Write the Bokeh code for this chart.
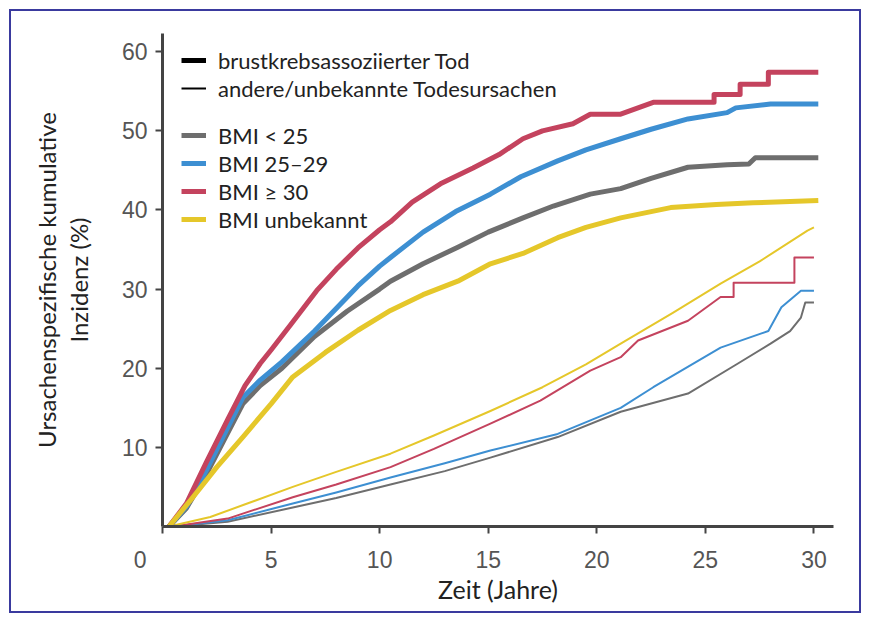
from bokeh.plotting import figure
from bokeh.models import Range1d, FixedTicker, Legend, LegendItem, LinearAxis
from bokeh.embed import file_html
from bokeh.resources import INLINE

# ---- data ----
x_ticks = [0, 5, 10, 15, 20, 25, 30]
y_ticks = [10, 20, 30, 40, 50, 60]

# breast-cancer-associated death (thick lines)
bc_gray_x = [0.3, 1.1, 2.0, 3.0, 3.7, 4.5, 5.5, 7.0, 8.5, 10.0, 10.5, 12.0, 13.6, 15.0, 16.6, 18.0, 19.7, 21.1, 22.5, 24.2, 26.0, 27.0, 27.3, 30.2]
bc_gray_y = [0, 2.3, 6.5, 11.8, 15.5, 17.8, 20.0, 24.0, 27.2, 30.0, 31.0, 33.2, 35.3, 37.2, 39.0, 40.5, 42.0, 42.7, 44.0, 45.4, 45.7, 45.8, 46.6, 46.6]

bc_blue_x = [0.3, 1.1, 2.0, 3.0, 3.7, 4.5, 5.5, 7.0, 7.6, 9.0, 10.0, 10.5, 12.0, 13.5, 15.1, 16.5, 18.2, 19.5, 21.1, 22.5, 24.2, 26.0, 26.4, 28.0, 30.2]
bc_blue_y = [0, 2.5, 7.0, 12.5, 16.3, 18.5, 20.8, 24.7, 26.4, 30.4, 32.9, 34.0, 37.2, 39.8, 42.0, 44.2, 46.2, 47.6, 49.0, 50.2, 51.5, 52.3, 52.9, 53.4, 53.4]

bc_red_x = [0.3, 1.1, 2.0, 3.0, 3.8, 4.5, 5.0, 5.9, 7.1, 8.0, 9.0, 10.0, 10.5, 11.5, 12.8, 14.3, 15.5, 16.6, 17.5, 18.9, 19.7, 21.1, 22.6, 25.4, 25.4, 26.6, 26.6, 27.9, 27.9, 30.2]
bc_red_y = [0, 2.9, 8.0, 13.5, 17.8, 20.6, 22.3, 25.5, 29.8, 32.5, 35.2, 37.5, 38.5, 41.0, 43.3, 45.3, 47.0, 49.0, 50.0, 50.9, 52.1, 52.1, 53.6, 53.6, 54.6, 54.6, 55.9, 55.9, 57.4, 57.4]

bc_yellow_x = [0.3, 1.4, 2.5, 3.7, 5.0, 6.0, 7.5, 9.0, 10.5, 12.0, 13.6, 15.1, 16.6, 18.2, 19.5, 21.1, 23.4, 25.5, 27.2, 30.2]
bc_yellow_y = [0, 3.7, 7.5, 11.3, 15.5, 18.9, 22.0, 24.8, 27.3, 29.3, 31.0, 33.2, 34.5, 36.5, 37.8, 39.0, 40.3, 40.7, 40.9, 41.2]

# other/unknown causes of death (thin lines)
oc_gray_x = [0.5, 3.0, 6.0, 8.0, 10.5, 13.0, 15.1, 18.2, 21.1, 24.2, 26.5, 28.0, 28.9, 29.4, 29.6, 30.0]
oc_gray_y = [0, 0.6, 2.4, 3.6, 5.3, 7.0, 8.7, 11.3, 14.5, 16.8, 20.6, 23.1, 24.7, 26.4, 28.3, 28.3]

oc_blue_x = [0.5, 3.0, 6.0, 8.0, 10.5, 13.0, 15.1, 18.2, 21.1, 22.6, 25.7, 27.9, 28.5, 29.4, 30.0]
oc_blue_y = [0, 0.8, 2.9, 4.3, 6.2, 8.0, 9.6, 11.7, 15.0, 17.6, 22.6, 24.7, 27.7, 29.8, 29.8]

oc_red_x = [0.5, 3.0, 6.0, 8.0, 10.5, 12.5, 15.1, 17.4, 19.7, 21.1, 21.9, 24.2, 25.7, 26.3, 26.3, 29.1, 29.1, 30.0]
oc_red_y = [0, 1.0, 3.7, 5.3, 7.5, 9.8, 13.0, 15.9, 19.7, 21.4, 23.5, 26.0, 29.0, 29.0, 30.8, 30.8, 34.0, 34.0]

oc_yellow_x = [0.3, 2.2, 4.0, 6.0, 8.0, 10.5, 12.5, 15.1, 17.5, 19.5, 21.1, 23.5, 25.7, 27.5, 29.7, 30.0]
oc_yellow_y = [0, 1.2, 3.0, 5.0, 6.9, 9.2, 11.5, 14.6, 17.6, 20.5, 23.1, 27.0, 30.7, 33.5, 37.4, 37.8]

legend_cause = ["brustkrebsassoziierter Tod", "andere/unbekannte Todesursachen"]
legend_bmi = ["BMI < 25", "BMI 25\u201329", "BMI \u2265 30", "BMI unbekannt"]
y_label_lines = ["Ursachenspezifische kumulative", "Inzidenz (%)"]

GRAY, BLUE, RED, YELLOW = "#6e6e6e", "#3d8fd2", "#c4435e", "#e5c72a"

FONT = "Lato"
NAN = float("nan")

p = figure(width=852, height=604, output_backend="svg", toolbar_location=None,
           x_range=Range1d(0, 30.9), y_range=Range1d(0, 62.3),
           min_border_left=151, min_border_right=30, min_border_top=22, min_border_bottom=89)
p.styles = {"border": "2px solid #3a3a9e", "margin-left": "9px", "margin-top": "9px"}
p.outline_line_color = None
p.grid.grid_line_color = None
p.background_fill_color = "white"
p.border_fill_color = "white"

for ax in (p.xaxis[0], p.yaxis[0]):
    ax.axis_line_width = 3
    ax.axis_line_color = "#444444"
    ax.major_tick_line_color = "#444444"
    ax.major_tick_line_width = 2
    ax.major_tick_out = 7
    ax.major_tick_in = 0
    ax.minor_tick_line_color = None
    ax.major_label_text_font = "Liberation Sans"
    ax.major_label_text_font_size = "23px"
    ax.major_label_text_color = "#555555"
    ax.axis_label_text_font = FONT
    ax.axis_label_text_font_style = "normal"
    ax.axis_label_text_color = "#222222"

p.xaxis.axis_label_text_font_size = "25px"
p.yaxis.axis_label_text_font_size = "24px"
p.xaxis.ticker = FixedTicker(ticks=x_ticks)
p.yaxis.ticker = FixedTicker(ticks=y_ticks)
# the origin label sits left of the corner in the reference
p.xaxis.major_label_overrides = {0: "0" + "\u00a0" * 7}
p.xaxis.major_label_standoff = 13
p.yaxis.major_label_standoff = 8
p.xaxis.axis_label = "Zeit (Jahre)"
p.yaxis.axis_label = y_label_lines[1]
p.xaxis.axis_label_standoff = -2
p.yaxis.axis_label_standoff = 26

# first line of the y title, on a bare outer axis
ax_title = LinearAxis(ticker=FixedTicker(ticks=[]), axis_label=y_label_lines[0],
                      axis_line_color=None, major_tick_line_color=None, minor_tick_line_color=None,
                      major_tick_out=0, major_label_standoff=0, axis_label_standoff=0,
                      axis_label_text_font=FONT, axis_label_text_font_size="24px",
                      axis_label_text_font_style="normal", axis_label_text_color="#222222")
p.add_layout(ax_title, "left")

# thin lines (other causes)
thin = 2
p.line(oc_gray_x, oc_gray_y, line_color=GRAY, line_width=thin, line_join="round")
p.line(oc_blue_x, oc_blue_y, line_color=BLUE, line_width=thin, line_join="round")
p.line(oc_red_x, oc_red_y, line_color=RED, line_width=thin, line_join="round")
p.line(oc_yellow_x, oc_yellow_y, line_color=YELLOW, line_width=thin, line_join="round")

# thick lines (breast cancer associated)
thick = 5
r_gray = p.line(bc_gray_x, bc_gray_y, line_color=GRAY, line_width=thick, line_join="round")
r_blue = p.line(bc_blue_x, bc_blue_y, line_color=BLUE, line_width=thick, line_join="round")
r_red = p.line(bc_red_x, bc_red_y, line_color=RED, line_width=thick, line_join="round")
r_yellow = p.line(bc_yellow_x, bc_yellow_y, line_color=YELLOW, line_width=thick, line_join="round")

# legend keys for the line types (no visible data)
d_thick = p.line([NAN], [NAN], line_color="black", line_width=5)
d_thin = p.line([NAN], [NAN], line_color="black", line_width=2)

def make_legend(items, loc, spacing):
    return Legend(items=items, location=loc, orientation="vertical",
                  glyph_width=25, glyph_height=28, label_height=28, label_standoff=12,
                  spacing=spacing, padding=0, margin=0,
                  border_line_color=None, background_fill_alpha=0,
                  label_text_font=FONT, label_text_font_size="22px", label_text_color="#222222")

lg1 = make_legend([LegendItem(label=legend_cause[0], renderers=[d_thick]),
                   LegendItem(label=legend_cause[1], renderers=[d_thin])], (19, 424), 0)
lg2 = make_legend([LegendItem(label=legend_bmi[0], renderers=[r_gray]),
                   LegendItem(label=legend_bmi[1], renderers=[r_blue]),
                   LegendItem(label=legend_bmi[2], renderers=[r_red]),
                   LegendItem(label=legend_bmi[3], renderers=[r_yellow])], (19, 293), 0)
p.add_layout(lg1)
p.add_layout(lg2)

open("out.html", "w").write(file_html(p, INLINE))
